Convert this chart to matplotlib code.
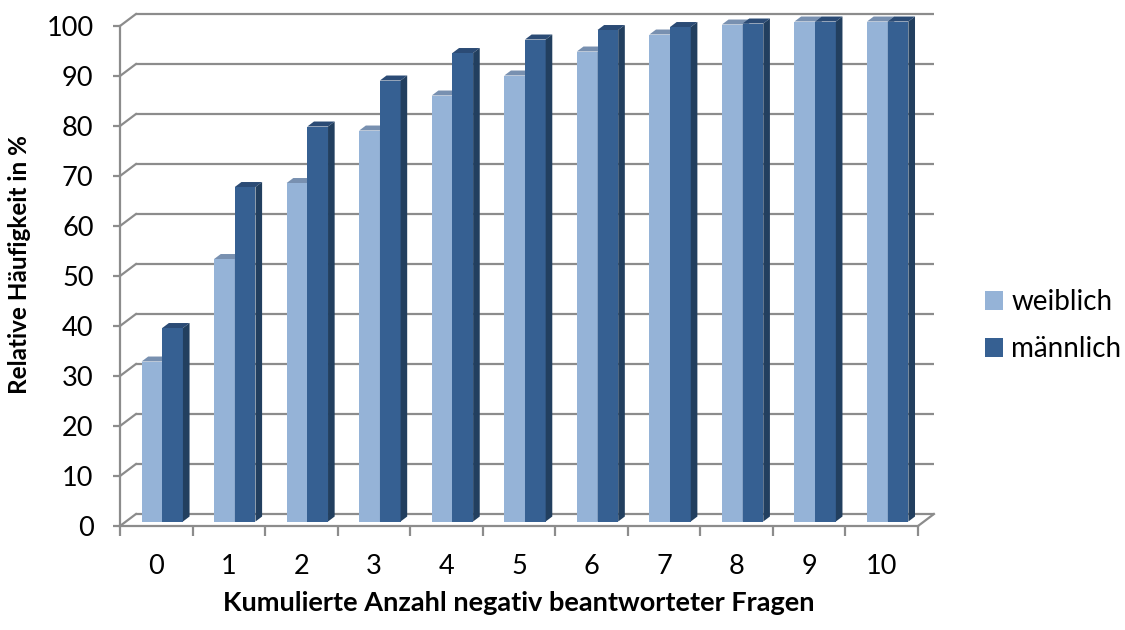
import matplotlib
matplotlib.use("Agg")
import matplotlib.pyplot as plt
from matplotlib.patches import Patch

plt.rcParams["font.family"] = ["Lato", "DejaVu Sans"]

categories = [str(i) for i in range(11)]
weiblich = [32.0, 52.5, 67.7, 78.2, 85.2, 89.2, 94.0, 97.4, 99.4, 100.0, 100.0]
maennlich = [38.7, 66.9, 79.0, 88.2, 93.7, 96.4, 98.3, 98.9, 99.6, 100.0, 100.0]
series_names = ["weiblich", "männlich"]
y_ticks = list(range(0, 101, 10))

# fake Excel 3D look: depth direction expressed in data units
DX, DY = 0.22, 2.4      # full depth of the chart box
Z0, Z1 = 0.375, 0.79    # front / back of the columns (fraction of depth)
W = 0.285               # column width

FRONT = ["#95B3D7", "#366092"]
TOP = ["#7890B0", "#2B4B75"]
SIDE = ["#6E88A8", "#223F5F"]
GRID = "#8C8C8C"

fig = plt.figure(figsize=(11.25, 6.3), dpi=100)
ax = fig.add_axes([120 / 1125, 104 / 630, 798 / 1125, 500 / 630])
n = len(categories)
ax.set_xlim(-0.5, n - 0.5)
ax.set_ylim(0, 100)

# back wall gridlines + diagonals from the front axis
for v in y_ticks:
    ax.plot([-0.5 + DX, n - 0.5 + DX], [v + DY, v + DY], color=GRID, lw=1.6,
            clip_on=False, zorder=1, solid_capstyle="butt")
    ax.plot([-0.5, -0.5 + DX], [v, v + DY], color=GRID, lw=1.6, clip_on=False, zorder=1)
# floor right edge
ax.plot([n - 0.5, n - 0.5 + DX], [0, DY], color=GRID, lw=1.6, clip_on=False, zorder=1)

# columns
for s, vals in enumerate([weiblich, maennlich]):
    xs = [i - W + s * W + Z0 * DX for i in range(n)]
    ax.bar(xs, vals, width=W, bottom=Z0 * DY, align="edge", color=FRONT[s],
           linewidth=0, zorder=3 + s, clip_on=False)
    d = Z1 - Z0
    for x0, v in zip(xs, vals):
        top = v + Z0 * DY
        ax.fill([x0, x0 + W, x0 + W + d * DX, x0 + d * DX],
                [top, top, top + d * DY, top + d * DY],
                color=TOP[s], lw=0, zorder=3 + s, clip_on=False)
        ax.fill([x0 + W, x0 + W + d * DX, x0 + W + d * DX, x0 + W],
                [Z0 * DY, Z0 * DY + d * DY, top + d * DY, top],
                color=SIDE[s], lw=0, zorder=3 + s, clip_on=False)

for side in ["top", "right"]:
    ax.spines[side].set_visible(False)
for side in ["left", "bottom"]:
    ax.spines[side].set_color(GRID)
    ax.spines[side].set_linewidth(1.6)
    ax.spines[side].set_zorder(6)

ax.set_yticks(y_ticks)
ax.set_yticklabels([str(v) for v in y_ticks])
ax.set_xticks([i - 0.5 for i in range(n + 1)])
ax.set_xticklabels([])
ax.set_xticks(range(n), minor=True)
ax.set_xticklabels(categories, minor=True)
ax.tick_params(axis="y", length=5, width=1.6, color=GRID, labelsize=19.5, pad=14)
ax.tick_params(axis="x", which="major", length=7, width=1.6, color=GRID)
ax.tick_params(axis="x", which="minor", length=0, labelsize=19.5, pad=20)

ax.set_xlabel("Kumulierte Anzahl negativ beantworteter Fragen", fontsize=19.5,
              fontweight="bold", labelpad=9)
ax.set_ylabel("Relative Häufigkeit in %", fontsize=17.5, fontweight="bold")
ax.yaxis.set_label_coords(-0.112, 0.522)

handles = [Patch(facecolor=FRONT[s], label=series_names[s]) for s in range(2)]
fig.legend(handles=handles, loc="center left", bbox_to_anchor=(985 / 1125, 0.483),
           frameon=False, fontsize=20, handlelength=0.65, handleheight=0.65,
           handletextpad=0.3, labelspacing=0.75, borderpad=0, borderaxespad=0)

fig.savefig("out.png", dpi=100)
